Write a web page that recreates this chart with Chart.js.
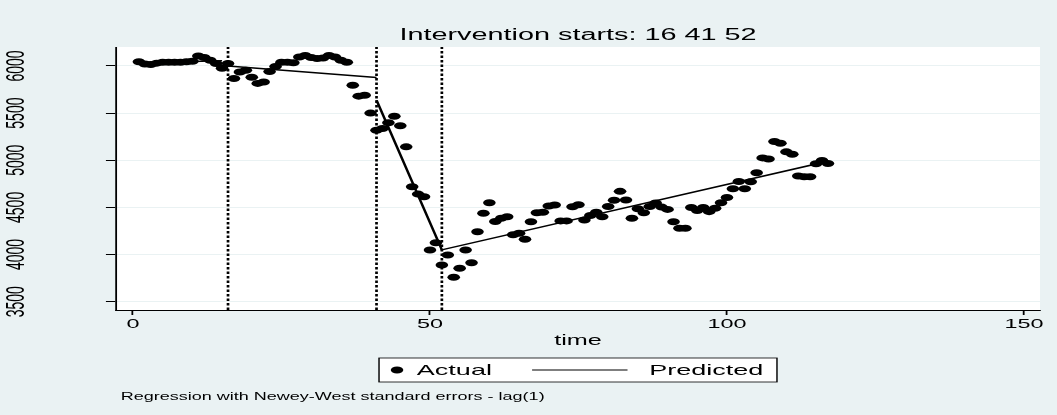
<!DOCTYPE html>
<html>
<head>
<meta charset="utf-8">
<script src="https://cdn.jsdelivr.net/npm/chart.js@4/dist/chart.umd.min.js"></script>
<style>
  html, body { margin: 0; padding: 0; background: #eaf2f3; overflow: hidden; }
  canvas { display: block; }
</style>
</head>
<body>
<canvas id="grafico"></canvas>
<script>
// valores (tempo 1..117)
const actual = [
  6045, 6020, 6015, 6030, 6040, 6040, 6040, 6040, 6045, 6050,
  6105, 6090, 6060, 6025, 5975, 6025, 5866, 5936, 5955, 5880,
  5815, 5830, 5940, 5995, 6040, 6040, 6035, 6095, 6110, 6090,
  6080, 6085, 6110, 6095, 6060, 6040, 5795, 5680, 5690, 5500,
  5319, 5337, 5397, 5467, 5365, 5142, 4719, 4641, 4613, 4048,
  4126, 3890, 3995, 3759, 3855, 4048, 3914, 4242, 4437, 4549,
  4350, 4384, 4401, 4210, 4225, 4162, 4348, 4443, 4448, 4514,
  4525, 4357, 4357, 4507, 4528, 4366, 4414, 4448, 4401, 4510,
  4575, 4670, 4578, 4384, 4485, 4443, 4510, 4546, 4503, 4479,
  4348, 4278, 4278, 4500, 4468, 4500, 4455, 4490, 4549, 4606,
  4698, 4775, 4698, 4772, 4867, 5025, 5014, 5199, 5181, 5089,
  5063, 4832, 4825, 4825, 4962, 4997, 4966
];

// linha prevista: pontos de quebra de cada segmento (null = interrupção)
const predTime  = [1,    15,   16,   16,   41,   41,   41,   52,   117];
const predValue = [6035, 6055, null, 6000, 5877, null, 5637, 4050, 4990];

const interventions = [16, 41, 52];
const xTicks = [0, 50, 100, 150];
const yTicks = [3500, 4000, 4500, 5000, 5500, 6000];
const xMin = -2.86, xMax = 152.7;
const yMin = 3412, yMax = 6201;

const PAGE_W = 1057, PAGE_H = 415;
const W = 587;               // largura lógica, esticada na horizontal
const SX = PAGE_W / W;
const BG = '#eaf2f3';

Chart.defaults.font.family = "'Liberation Sans', Arial, Helvetica, sans-serif";
Chart.defaults.color = '#000';

// estica tudo na horizontal e pinta o fundo
const stretchBg = {
  id: 'stretchBg',
  beforeDraw(chart) {
    const ctx = chart.ctx;
    ctx.setTransform(SX, 0, 0, 1, 0, 0);
    ctx.fillStyle = BG;
    ctx.fillRect(0, 0, W, PAGE_H);
    const a = chart.chartArea;
    ctx.fillStyle = '#fff';
    ctx.fillRect(a.left, a.top, a.right - a.left, a.bottom - a.top);
  }
};

// legenda com caixa + nota de rodapé
const legendNote = {
  id: 'legendNote',
  afterDraw(chart) {
    const ctx = chart.ctx;
    const a = chart.chartArea;
    const cx = (a.left + a.right) / 2;
    const bw = 221, bh = 24, by = 358;
    const bx = cx - bw / 2;
    ctx.save();
    ctx.fillStyle = '#fff';
    ctx.fillRect(bx, by, bw, bh);
    ctx.strokeStyle = '#000';
    ctx.lineWidth = 0.8;
    ctx.strokeRect(bx, by, bw, bh);

    const my = by + bh / 2;
    const ds = chart.data.datasets;
    ctx.fillStyle = '#000';
    ctx.beginPath();
    ctx.arc(bx + 10, my, 3.5, 0, Math.PI * 2);
    ctx.fill();

    ctx.font = "15px 'Liberation Sans', Arial, sans-serif";
    ctx.textBaseline = 'middle';
    ctx.fillText(ds[0].label, bx + 21, my + 0.5);

    ctx.beginPath();
    ctx.moveTo(bx + 85, my);
    ctx.lineTo(bx + 138, my);
    ctx.lineWidth = 1.2;
    ctx.stroke();
    ctx.fillText(ds[1].label, bx + 150, my + 0.5);

    ctx.font = "10px 'Liberation Sans', Arial, sans-serif";
    ctx.fillText('Regression with Newey-West standard errors - lag(1)', 67, 397);
    ctx.restore();
  }
};

const actualPts = actual.map((v, i) => ({ x: i + 1, y: v }));
const predPts = predTime.map((t, i) => ({ x: t, y: predValue[i] }));

const vlines = interventions.map(t => ({
  type: 'line',
  label: '',
  data: [{ x: t, y: yMin }, { x: t, y: yMax }],
  borderColor: '#000',
  borderWidth: 1.5,
  borderDash: [2.5, 2],
  pointRadius: 0
}));

const canvas = document.getElementById('grafico');
canvas.width = W;
canvas.height = PAGE_H;

const chart = new Chart(canvas, {
  type: 'scatter',
  data: {
    datasets: [
      {
        type: 'scatter',
        label: 'Actual',
        data: actualPts,
        pointRadius: 3.5,
        pointBorderWidth: 0,
        pointBackgroundColor: '#000'
      },
      {
        type: 'line',
        label: 'Predicted',
        data: predPts,
        borderColor: '#000',
        borderWidth: 1.5,
        pointRadius: 0,
        spanGaps: false,
        tension: 0
      },
      ...vlines
    ]
  },
  options: {
    responsive: false,
    animation: false,
    devicePixelRatio: 1,
    events: [],
    layout: { padding: { left: 0, right: W - 1040 / SX, top: 0, bottom: 0 } },
    plugins: {
      legend: { display: false },
      tooltip: { enabled: false },
      title: {
        display: true,
        fullSize: false,
        text: 'Intervention starts: ' + interventions.join(' '),
        font: { size: 16, weight: 'normal' },
        color: '#000',
        padding: { top: 26, bottom: 1.8 }
      }
    },
    scales: {
      x: {
        type: 'linear',
        min: xMin,
        max: xMax,
        afterBuildTicks: s => { s.ticks = xTicks.map(v => ({ value: v })); },
        afterFit: s => { s.height = PAGE_H - 310; },
        grid: { drawOnChartArea: false, tickColor: '#000', tickLength: 5 },
        border: { color: '#000', width: 1 },
        ticks: { padding: 2, font: { size: 13 }, maxRotation: 0, autoSkip: false, callback: v => v },
        title: { display: true, text: 'time', font: { size: 14 }, padding: { top: 0, bottom: 65 } }
      },
      y: {
        min: yMin,
        max: yMax,
        afterBuildTicks: s => { s.ticks = yTicks.map(v => ({ value: v })); },
        afterFit: s => { s.width = 116 / SX; },
        grid: { color: BG, tickColor: '#000', tickLength: 5.6 },
        border: { color: '#000', width: 1 },
        ticks: { minRotation: 90, maxRotation: 90, crossAlign: 'center', padding: 34, font: { size: 14 }, callback: v => v }
      }
    }
  },
  plugins: [stretchBg, legendNote]
});

// alarga o canvas real e redesenha com a transformação
canvas.width = PAGE_W;
canvas.style.width = PAGE_W + 'px';
canvas.style.height = PAGE_H + 'px';
chart.draw();
</script>
</body>
</html>
